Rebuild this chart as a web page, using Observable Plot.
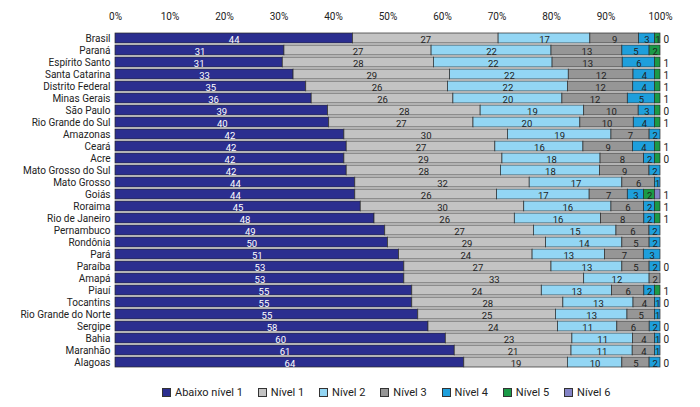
<!DOCTYPE html>
<html>
<head>
<meta charset="utf-8">
<script src="https://cdn.jsdelivr.net/npm/d3@7"></script>
<script src="https://cdn.jsdelivr.net/npm/@observablehq/plot@0.6"></script>
<style>
  html, body { margin: 0; padding: 0; background: #fff; }
  body { width: 700px; height: 407px; overflow: hidden; font-family: Roboto, "Noto Sans", sans-serif; }
  #legend { display: flex; align-items: center; padding-left: 162px; height: 29px; font-size: 11px; color: #222; }
  #legend .item { display: flex; align-items: center; margin-right: 15px; }
  #legend .sw { width: 9px; height: 9px; border: 1px solid #333; margin-right: 4px; box-sizing: border-box; }
</style>
</head>
<body>
<div id="chart"></div>
<div id="legend"></div>
<script>
const states = ["Brasil","Paraná","Espírito Santo","Santa Catarina","Distrito Federal","Minas Gerais","São Paulo","Rio Grande do Sul","Amazonas","Ceará","Acre","Mato Grosso do Sul","Mato Grosso","Goiás","Roraima","Rio de Janeiro","Pernambuco","Rondônia","Pará","Paraíba","Amapá","Piauí","Tocantins","Rio Grande do Norte","Sergipe","Bahia","Maranhão","Alagoas"];
const levels = ["Abaixo nível 1","Nível 1","Nível 2","Nível 3","Nível 4","Nível 5","Nível 6"];
const colors = ["#2b2e8f","#c3c3c3","#93d6f4","#969696","#1e9fdc","#1b9a47","#8383c6"];

const abaixo = [44,31,31,33,35,36,39,40,42,42,42,42,44,44,45,48,49,50,51,53,53,55,55,55,58,60,61,64];
const nivel1 = [27,27,28,29,26,26,28,27,30,27,29,28,32,26,30,26,27,29,24,27,33,24,28,25,24,23,21,19];
const nivel2 = [17,22,22,22,22,20,19,20,19,16,18,18,17,17,16,16,15,14,13,13,12,13,13,13,11,11,11,10];
const nivel3 = [9,13,13,12,12,12,10,10,7,9,8,9,6,7,6,8,6,5,7,5,2,6,4,5,6,4,4,5];
const nivel4 = [3,5,6,4,4,5,3,4,2,4,2,2,1,3,2,2,2,2,3,2,0,2,1,1,2,1,1,2];
const nivel5 = [1,2,1,1,1,1,1,1,0,1,1,0,0,2,1,1,0,0,0,0,0,1,0,0,0,0,0,0];
const nivel6 = [0,0,0,0,0,0,0,0,0,0,0,0,0,1,0,0,0,0,0,0,0,0,0,0,0,0,0,0];
const nivel5Label = ["1","2","","","","","","","","","","","","2","","","","","","","","","","","","","",""];
const nivel6Label = ["0","","1","1","1","1","0","1","","1","0","","","1","1","1","","","","0","","1","0","","0","0","","0"];

const series = [abaixo, nivel1, nivel2, nivel3, nivel4, nivel5, nivel6];

const rows = [];
states.forEach((s, i) => {
  levels.forEach((l, j) => {
    const v = series[j][i];
    if (v > 0) {
      let label = "";
      if (j <= 4) label = String(v);
      else if (j === 5) label = nivel5Label[i];
      rows.push({state: s, level: l, value: v, label});
    }
  });
});

const outside = states.map((s, i) => ({state: s, t: nivel6Label[i]}));

const stackOpts = (extra) => Plot.stackX({x: "value", y: "state", z: "level", offset: "normalize", ...extra});

const chart = Plot.plot({
  width: 700,
  height: 378,
  marginLeft: 115,
  marginRight: 40,
  marginTop: 24,
  marginBottom: 2.6,
  style: {fontFamily: "Roboto, 'Noto Sans', sans-serif", fontSize: "10px", color: "#222", background: "#fff"},
  x: {domain: [0, 1], axis: null},
  y: {domain: states, padding: 0.2, axis: null},
  color: {domain: levels, range: colors},
  marks: [
    Plot.axisX({anchor: "top", ticks: 10, tickSize: 0, tickPadding: 5, tickFormat: d3.format(".0%"), label: null, fontSize: 10}),
    Plot.axisY({tickSize: 0, tickPadding: 5, label: null, fontSize: 10}),
    Plot.barX(rows, stackOpts({fill: "level", stroke: "#2a2a2a", strokeWidth: 0.7})),
    Plot.text(rows, stackOpts({text: d => d.level === levels[0] ? d.label : "", fill: "white", fontSize: 9.5, dy: 1})),
    Plot.text(rows, stackOpts({text: d => d.level !== levels[0] ? d.label : "", fill: "#222", fontSize: 9.5, dy: 1})),
    Plot.text(outside, {x: () => 1, y: "state", text: "t", dx: 3, textAnchor: "start", fill: "#222", fontSize: 10, dy: 1})
  ]
});
document.getElementById("chart").appendChild(chart);

const legend = document.getElementById("legend");
levels.forEach((l, j) => {
  const item = document.createElement("div");
  item.className = "item";
  const sw = document.createElement("span");
  sw.className = "sw";
  sw.style.background = colors[j];
  const tx = document.createElement("span");
  tx.textContent = l;
  item.appendChild(sw);
  item.appendChild(tx);
  legend.appendChild(item);
});
</script>
</body>
</html>
